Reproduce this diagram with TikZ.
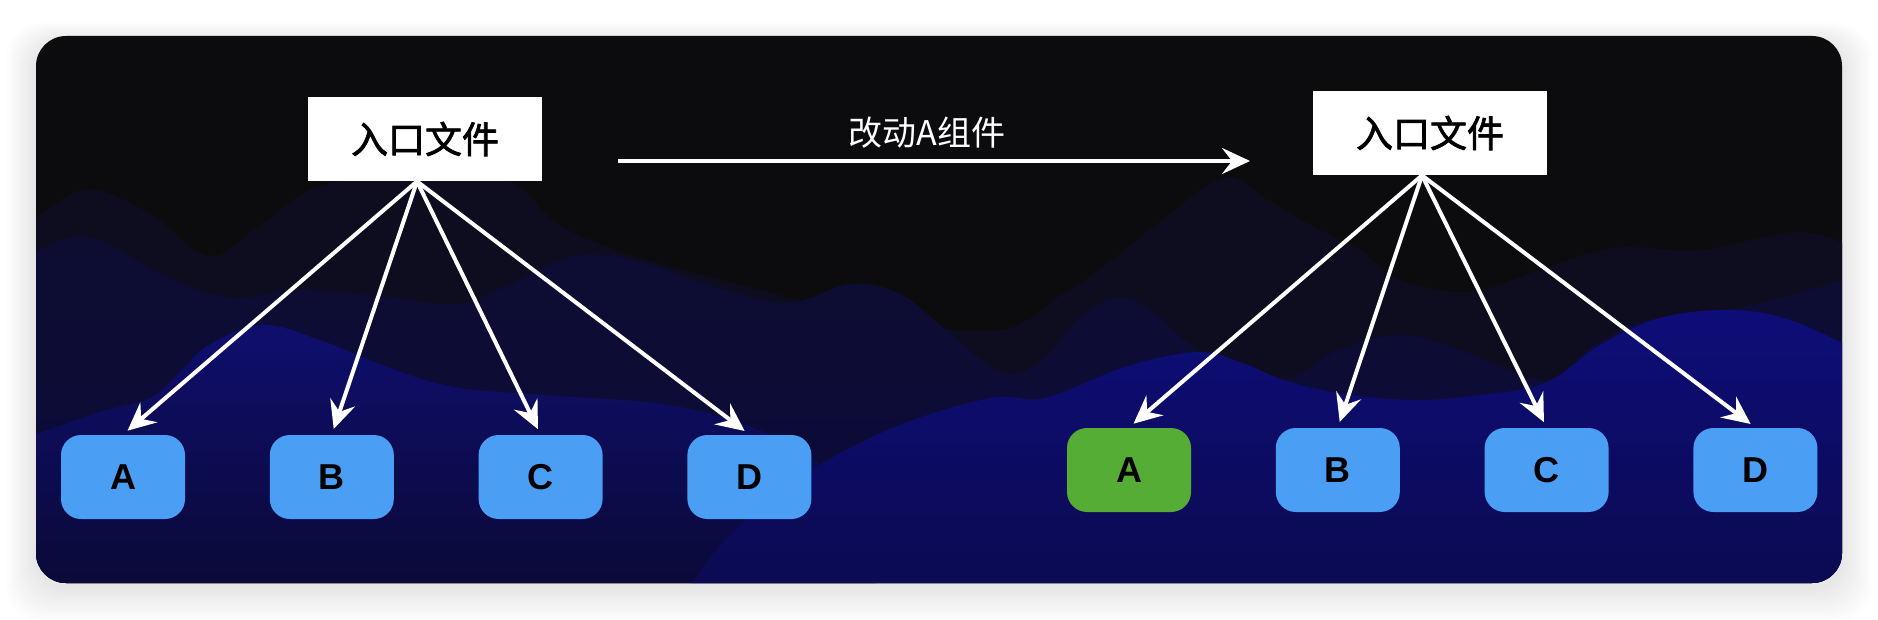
\documentclass[tikz,border=0pt]{standalone}
\usepackage{fontspec}
\setmainfont{Liberation Sans}
\newfontfamily\cjk{Noto Sans CJK SC}
\newfontfamily\cjkbold[FakeBold=2]{Noto Sans CJK SC}
\usetikzlibrary{arrows.meta,positioning}

\definecolor{cardbg}{HTML}{0C0C0F}
\definecolor{hillA}{HTML}{0E0D20}
\definecolor{hillB}{HTML}{0D0C31}
\definecolor{hillBlow}{HTML}{0C0B3C}
\definecolor{hillC}{HTML}{0F0E6E}
\definecolor{hillClow}{HTML}{0A0934}
\definecolor{hillD}{HTML}{0E0D78}
\definecolor{hillDlow}{HTML}{0B0A50}
\definecolor{modblue}{HTML}{4A9FF5}
\definecolor{modgreen}{HTML}{55AD35}

\tikzset{
  entry/.style={fill=white, minimum width=117pt, minimum height=42pt, inner sep=0pt,
    font=\cjkbold\fontsize{18.5}{20}\selectfont},
  module/.style={fill=modblue, rounded corners=10pt, minimum width=62pt, minimum height=42pt,
    inner sep=0pt, font=\bfseries\fontsize{18}{20}\selectfont},
  chalk/.style={white, line width=2pt, shorten >=3pt, -{Stealth[length=14pt,width=13pt,inset=5pt]}},
}

\begin{document}
\begin{tikzpicture}[x=0.5pt,y=-0.5pt]
    \useasboundingbox (0,0) rectangle (1878,620);
    \fill[white] (0,0) rectangle (1878,620);

    % soft shadow under the card
    \foreach \i in {1,...,12}
        \fill[black, opacity=0.009, rounded corners=18pt]
            (36-\i*2.5, 36-\i*1.5+5) rectangle (1842+\i*2.5, 583+\i*2.8+5);
    \fill[cardbg, rounded corners=15pt] (36,36) rectangle (1842,583);

    % hills
    \begin{scope}
        \clip[rounded corners=15pt] (36,36) rectangle (1842,583);
        \fill[hillA] plot[smooth, tension=0.6] coordinates {
            (20,232) (84,190) (150,214) (209,256) (262,224) (320,186) (420,176)
            (510,182) (560,226) (640,258) (760,290) (880,320) (1000,330)
            (1060,296) (1110,262) (1160,222) (1224,178) (1266,199) (1312,226)
            (1360,250) (1400,280) (1470,292) (1540,270) (1614,248) (1700,250)
            (1800,232) (1860,252)}
            -- (1860,600) -- (20,600) -- cycle;
        \shade[top color=hillB, bottom color=hillBlow] plot[smooth, tension=0.6] coordinates {
            (20,262) (84,236) (164,276) (231,298) (298,290) (387,297) (454,304)
            (499,290) (566,258) (610,256) (655,266) (701,283) (786,303) (850,284)
            (900,294) (946,330) (1000,372) (1040,362) (1080,318) (1116,298)
            (1150,310) (1200,352) (1250,366) (1289,378) (1340,350) (1400,335)
            (1460,350) (1545,380) (1590,348) (1637,323) (1700,312) (1753,305)
            (1842,280) (1860,272)}
            -- (1860,600) -- (20,600) -- cycle;
        \shade[top color=hillC, bottom color=hillClow] plot[smooth, tension=0.6] coordinates {
            (20,440) (100,412) (150,398) (180,372) (209,345) (262,325) (320,340)
            (387,367) (454,387) (543,395) (655,403) (730,420) (800,450)
            (850,500) (880,600)}
            -- (20,600) -- cycle;
        \shade[top color=hillD, bottom color=hillDlow] plot[smooth, tension=0.6] coordinates {
            (680,600) (730,535) (812,470) (900,425) (991,398) (1045,398)
            (1125,367) (1196,352) (1240,362) (1289,382) (1350,395) (1420,400)
            (1480,395) (1545,383) (1600,345) (1660,318) (1730,310) (1790,320)
            (1860,352)}
            -- (1860,600) -- cycle;
    \end{scope}

    % before
    \node[entry] (entryL) at (425,139) {入口文件};
    \node[module] (aL) at (123,477) {A};
    \node[module, right=42pt of aL] (bL) {B};
    \node[module, right=42pt of bL] (cL) {C};
    \node[module, right=42pt of cL] (dL) {D};
    \coordinate (srcL) at ([xshift=-4pt]entryL.south);
    \foreach \m in {aL,bL,cL,dL}
        \draw[chalk] (srcL) -- (\m.north);

    % change
    \coordinate (chgL) at (618,161);
    \coordinate (chgR) at (1250,161);
    \draw[chalk, shorten >=0pt] (chgL) -- (chgR);
    \node[white, font=\cjk\fontsize{17}{20}\selectfont] (chg) at (927,133) {改动A组件};

    % after
    \node[entry] (entryR) at (1430,133) {入口文件};
    \node[module, fill=modgreen] (aR) at (1129,470) {A};
    \node[module, right=42pt of aR] (bR) {B};
    \node[module, right=42pt of bR] (cR) {C};
    \node[module, right=42pt of cR] (dR) {D};
    \coordinate (srcR) at ([xshift=-4pt]entryR.south);
    \foreach \m in {aR,bR,cR,dR}
        \draw[chalk] (srcR) -- (\m.north);
\end{tikzpicture}
\end{document}
